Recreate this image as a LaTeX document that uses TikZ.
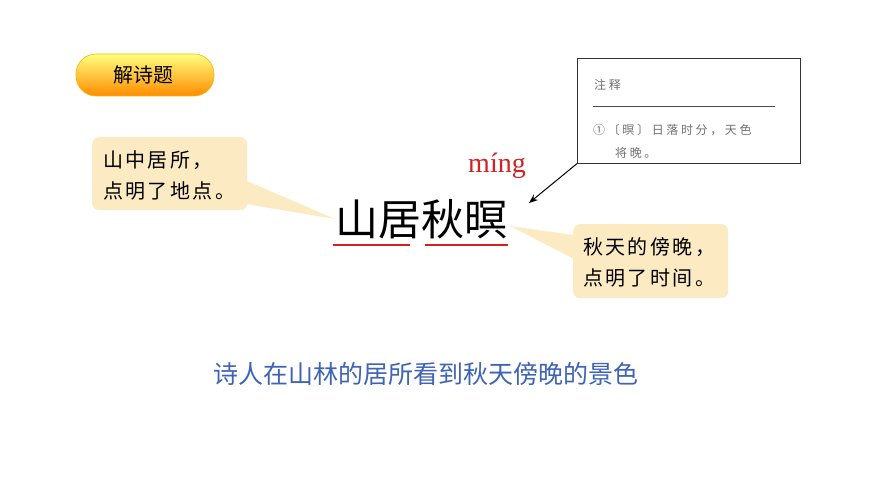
\documentclass[tikz,border=0pt]{standalone}
\usepackage{fontspec}
\usetikzlibrary{arrows.meta}
\setmainfont{Liberation Serif}
\newfontfamily\cjk{Noto Sans CJK SC}
\definecolor{callfill}{HTML}{FCEBC2}
\definecolor{notegray}{HTML}{707070}
\definecolor{blueT}{HTML}{3F63B5}
\definecolor{redU}{HTML}{D42020}
\tikzset{
  callout/.style={fill=callfill,draw=none,rounded corners=7pt},
  calltext/.style={font=\cjk\fontsize{20}{31}\selectfont\addfontfeature{LetterSpace=12},align=left,anchor=west,inner sep=0},
  notetext/.style={font=\cjk\fontsize{12}{14}\selectfont\addfontfeature{LetterSpace=22},text=notegray,anchor=west,inner sep=0},
}
\begin{document}
\begin{tikzpicture}[x=1pt,y=-1pt]
\useasboundingbox[fill=white] (0,0) rectangle (870,489);
% badge
\shade[top color=yellow!50!white,bottom color=orange!90!yellow,rounded corners=20pt,draw=orange!60!yellow,line width=0.6pt] (76,54) rectangle (214,96);
\node[font=\cjk\fontsize{20}{22}\selectfont] (badge) at (143,75) {解诗题};
% left callout
\fill[callfill] (240,178) -- (335,219) -- (240,203) -- cycle;
\node[callout,minimum width=155pt,minimum height=73pt,anchor=north west] (lbox) at (92,137) {};
\node[calltext] (lt) at (103,175) {山中居所，\\点明了地点。};
% right callout
\fill[callfill] (580,236) -- (510,226) -- (580,262) -- cycle;
\node[callout,minimum width=155pt,minimum height=74pt,anchor=north west] (rbox) at (573,224) {};
\node[calltext] (rt) at (583,262) {秋天的傍晚，\\点明了时间。};
% title
\node[font=\cjk\fontsize{43}{46}\selectfont,inner sep=0] (title) at (421,219) {山居秋暝};
\draw[redU,line width=1.6pt] (333,245) -- (410,245);
\draw[redU,line width=1.6pt] (425,245) -- (508,245);
\node[font=\fontsize{28}{30}\selectfont,text=redU,inner sep=0] (ming) at (497,166) {míng};
% note box
\node[draw=black!80,line width=0.6pt,minimum width=223pt,minimum height=105pt,anchor=north west,inner sep=0] (note) at (577,58) {};
\node[notetext] (nh) at (594,85) {注释};
\draw[black!70,line width=0.5pt] (593,106) -- (775,106);
\node[notetext] (n1) at (593,130) {①〔暝〕日落时分，天色};
\node[notetext] (n2) at (615,153) {将晚。};
\coordinate (tip) at (529,203);
\draw[-{Stealth[length=9pt,width=7pt]},line width=1pt] (note.south west) -- (tip);
% bottom sentence
\node[font=\cjk\fontsize{25}{28}\selectfont,text=blueT,inner sep=0] (summary) at (426,374) {诗人在山林的居所看到秋天傍晚的景色};
\end{tikzpicture}
\end{document}
